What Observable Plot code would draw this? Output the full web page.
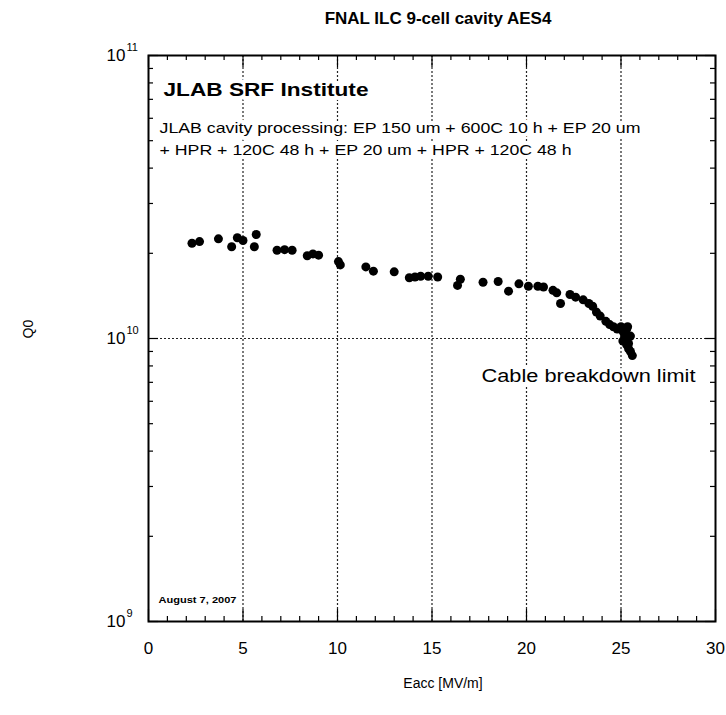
<!DOCTYPE html>
<html><head><meta charset="utf-8">
<script src="https://cdn.jsdelivr.net/npm/d3@7"></script>
<script src="https://cdn.jsdelivr.net/npm/@observablehq/plot@0.6"></script>
<style>html,body{margin:0;padding:0;background:#fff;} svg{display:block}</style>
</head><body><div id="chart"></div>
<script>
// Eacc [MV/m]
const eacc = [2.3, 2.7, 3.7, 4.4, 4.7, 5.0, 5.6, 5.7, 6.8, 7.2, 7.6, 8.4, 8.7, 9.0, 10.05, 10.15,
  11.5, 11.9, 13.0, 13.8, 14.1, 14.4, 14.8, 15.3, 16.35, 16.5, 17.7, 18.5, 19.05, 19.6, 20.1, 20.6,
  20.9, 21.4, 21.6, 21.8, 22.3, 22.6, 23.0, 23.3, 23.5, 23.7, 23.9, 24.2, 24.4, 24.6, 24.8, 25.0,
  25.1, 25.2, 25.3, 25.1, 25.2, 25.3, 25.4, 25.4, 25.5, 25.6, 25.5, 25.35];
// Q0
const q0 = [2.17e10, 2.20e10, 2.25e10, 2.11e10, 2.27e10, 2.22e10, 2.11e10, 2.33e10, 2.05e10, 2.06e10, 2.05e10,
  1.96e10, 1.99e10, 1.97e10, 1.87e10, 1.82e10, 1.79e10, 1.73e10, 1.72e10, 1.64e10, 1.65e10, 1.66e10, 1.66e10,
  1.65e10, 1.54e10, 1.62e10, 1.58e10, 1.59e10, 1.47e10, 1.56e10, 1.53e10, 1.53e10, 1.52e10, 1.48e10, 1.45e10,
  1.33e10, 1.43e10, 1.40e10, 1.37e10, 1.33e10, 1.30e10, 1.24e10, 1.20e10, 1.15e10, 1.12e10, 1.10e10, 1.08e10,
  1.10e10, 1.06e10, 1.03e10, 1.08e10, 0.98e10, 1.01e10, 0.95e10, 0.96e10, 0.92e10, 0.90e10, 0.87e10, 1.02e10, 1.10e10];

const xTickLabels = ["0", "5", "10", "15", "20", "25", "30"];
const xTicks = [0, 5, 10, 15, 20, 25, 30];
const xMinor = d3.range(0, 31).filter(d => d % 5 !== 0);
const yMajor = [1e9, 1e10, 1e11];
const yExp = ["9", "10", "11"];
const yMinor = [2, 3, 4, 5, 6, 7, 8, 9].flatMap(m => [m * 1e9, m * 1e10]);
const gridX = [5, 10, 15, 20, 25];
const gridY = [1e10];

const titleText = "FNAL ILC 9-cell cavity AES4";
const instText = "JLAB SRF Institute";
const procLines = ["JLAB cavity processing: EP 150 um + 600C 10 h + EP 20 um",
  "+ HPR + 120C 48 h + EP 20 um + HPR + 120C 48 h"];
const limitText = "Cable breakdown limit";
const dateText = "August 7, 2007";
const xLabel = "Eacc [MV/m]";
const yLabel = "Q0";

const data = eacc.map((e, i) => ({e, q: q0[i]}));

const W = 726, H = 715, mL = 148, mR = 11, mT = 55, mB = 94;
const fw = W - mL - mR, fh = H - mT - mB;
const font = "'Liberation Sans', Arial, sans-serif";

// annotation texts (drawn twice: a white halo pass, then the black text)
const notes = [
  {t: instText, anchor: "top-left", dx: 15, dy: 35, ta: "start", fs: 18, fw: "bold"},
  {t: procLines[0], anchor: "top-left", dx: 11, dy: 73, ta: "start", fs: 15, fw: "normal"},
  {t: procLines[1], anchor: "top-left", dx: 11, dy: 95, ta: "start", fs: 15, fw: "normal"},
  {t: limitText, anchor: "top-right", dx: -20, dy: 321, ta: "end", fs: 17.5, fw: "normal"}
];
const noteMarks = (halo) => notes.map(n => Plot.text([n.t], {
  frameAnchor: n.anchor, dx: n.dx, dy: n.dy, text: d => d, textAnchor: n.ta, lineAnchor: "middle",
  fontSize: n.fs, fontWeight: n.fw, fill: halo ? "white" : "black",
  ...(halo ? {stroke: "white", strokeWidth: 8, className: "halo"} : {})
}));

const plot = Plot.plot({
  width: W, height: H,
  marginLeft: mL, marginRight: mR, marginTop: mT, marginBottom: mB,
  style: {fontFamily: font, background: "white", color: "black", overflow: "visible"},
  x: {domain: [0, 30], axis: null},
  y: {type: "log", domain: [1e9, 1e11], axis: null},
  marks: [
    Plot.ruleX(gridX, {x: d => d, stroke: "#222", strokeWidth: 1.2, strokeDasharray: "2,2"}),
    Plot.ruleY(gridY, {y: d => d, stroke: "#222", strokeWidth: 1.2, strokeDasharray: "2,2"}),
    ...noteMarks(true),
    ...noteMarks(false),
    Plot.text([dateText], {frameAnchor: "bottom-left", dx: 10, dy: -21, text: d => d, textAnchor: "start",
      lineAnchor: "middle", fontSize: 8.5, fontWeight: "bold", fill: "black"}),
    Plot.dot(data, {x: "e", y: "q", r: 4.5, fill: "black"}),
    // inward ticks
    Plot.tickX(xMinor, {x: d => d, insetTop: fh - 5, stroke: "black", strokeWidth: 1.2}),
    Plot.tickX(xMinor, {x: d => d, insetBottom: fh - 5, stroke: "black", strokeWidth: 1.2}),
    Plot.tickX(xTicks, {x: d => d, insetTop: fh - 12, stroke: "black", strokeWidth: 1.2}),
    Plot.tickX(xTicks, {x: d => d, insetBottom: fh - 12, stroke: "black", strokeWidth: 1.2}),
    Plot.tickY(yMinor, {y: d => d, insetRight: fw - 5, stroke: "black", strokeWidth: 1.2}),
    Plot.tickY(yMinor, {y: d => d, insetLeft: fw - 5, stroke: "black", strokeWidth: 1.2}),
    Plot.tickY(yMajor, {y: d => d, insetRight: fw - 10, stroke: "black", strokeWidth: 1.2}),
    Plot.tickY(yMajor, {y: d => d, insetLeft: fw - 10, stroke: "black", strokeWidth: 1.2}),
    Plot.frame({stroke: "black", strokeWidth: 2}),
    // tick labels
    Plot.text(xTicks, {x: d => d, text: (d, i) => xTickLabels[i], frameAnchor: "bottom", dy: 27,
      lineAnchor: "middle", fontSize: 17, fill: "black"}),
    Plot.text(yMajor, {y: d => d, text: () => "10", frameAnchor: "left", textAnchor: "end", dx: -23,
      lineAnchor: "middle", fontSize: 17, fill: "black"}),
    Plot.text(yMajor, {y: d => d, text: (d, i) => yExp[i], frameAnchor: "left", textAnchor: "start", dx: -22,
      dy: -8, lineAnchor: "middle", fontSize: 11, fill: "black"}),
    // titles
    Plot.text([titleText], {frameAnchor: "top", dx: 6, dy: -37, text: d => d, lineAnchor: "middle",
      fontSize: 17, fontWeight: "bold", fill: "black"}),
    Plot.text([xLabel], {frameAnchor: "bottom", dx: 11, dy: 62, text: d => d, lineAnchor: "middle", fontSize: 14, fill: "black"}),
    Plot.text([yLabel], {frameAnchor: "left", dx: -120, text: d => d, rotate: -90, lineAnchor: "middle", fontSize: 14, fill: "black"})
  ]
});
// stretch the wide annotation texts horizontally to the reference widths
const widths = new Map([[instText, 205], [procLines[0], 481], [procLines[1], 412], [limitText, 214], [dateText, 78]]);
d3.select(plot).selectAll("text").each(function () {
  const w = widths.get(this.textContent);
  if (w) { this.setAttribute("textLength", w); this.setAttribute("lengthAdjust", "spacingAndGlyphs"); }
});
document.getElementById("chart").appendChild(plot);
</script>
</body></html>
